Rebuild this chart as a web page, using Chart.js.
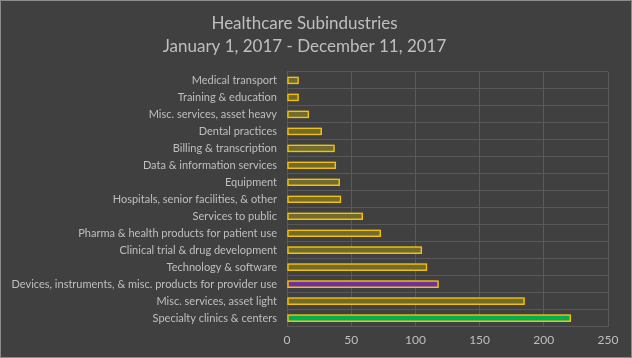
<!DOCTYPE html>
<html>
<head>
<meta charset="utf-8">
<script src="https://cdn.jsdelivr.net/npm/chart.js@4/dist/chart.umd.min.js"></script>
<style>
  html, body { margin: 0; padding: 0; background: #404040; }
  #wrap { position: relative; width: 632px; height: 358px; box-sizing: border-box; border: 1px solid #8c8c8c; }
  canvas { display: block; }
</style>
</head>
<body>
<div id="wrap"><canvas id="chart" width="630" height="356"></canvas></div>
<script>
// Data
//-----------------------------------------------------------------------------

var categories = [
  'Medical transport',
  'Training & education',
  'Misc. services, asset heavy',
  'Dental practices',
  'Billing & transcription',
  'Data & information services',
  'Equipment',
  'Hospitals, senior facilities, & other',
  'Services to public',
  'Pharma & health products for patient use',
  'Clinical trial & drug development',
  'Technology & software',
  'Devices, instruments, & misc. products for provider use',
  'Misc. services, asset light',
  'Specialty clinics & centers'
];

var dealCounts = [9, 9, 17, 27, 37, 38, 41, 42, 59, 73, 105, 109, 118, 185, 221];

var titleLines = ['Healthcare Subindustries', 'January 1, 2017 - December 11, 2017'];

// highlighted bars get their own fill, the rest stay olive
var barFills = categories.map(function(name) {
  if (name === 'Specialty clinics & centers') return '#00b050';
  if (name === 'Devices, instruments, & misc. products for provider use') return '#7030a0';
  return '#716b2c';
});

// Glow around the bars (Excel "glow" effect)
//-----------------------------------------------------------------------------

var glowPlugin = {
  id: 'glow',
  beforeDatasetDraw: function(chart) {
    var ctx = chart.ctx;
    ctx.save();
    ctx.shadowColor = 'rgba(210, 190, 40, 0.85)';
    ctx.shadowBlur = 8;
  },
  afterDatasetDraw: function(chart) {
    chart.ctx.restore();
  }
};

var textColor = '#bfbfbf';
var gridColor = '#595959';
var fontFamily = "Lato, 'Open Sans', sans-serif";

var chart = new Chart(document.getElementById('chart'), {
  type: 'bar',
  data: {
    labels: categories,
    datasets: [{
      data: dealCounts,
      backgroundColor: barFills,
      borderColor: '#ffc000',
      borderWidth: 1.5,
      borderSkipped: false,
      barThickness: 7
    }]
  },
  options: {
    indexAxis: 'y',
    responsive: false,
    animation: false,
    layout: { padding: { left: 0, right: 23, top: 6, bottom: 4 } },
    plugins: {
      legend: { display: false },
      tooltip: { enabled: false },
      title: {
        display: true,
        text: titleLines,
        color: textColor,
        font: { family: fontFamily, size: 17, weight: 'normal', lineHeight: 1.35 },
        padding: { top: 5, bottom: 14 }
      }
    },
    scales: {
      x: {
        min: 0,
        max: 250,
        ticks: { stepSize: 50, color: textColor, font: { family: fontFamily, size: 12 }, padding: 6 },
        grid: { color: gridColor, lineWidth: 1, drawTicks: false },
        border: { display: false }
      },
      y: {
        ticks: { color: textColor, font: { family: fontFamily, size: 11 }, padding: 10 },
        grid: { color: gridColor, lineWidth: 1, drawTicks: false },
        border: { display: false },
        afterFit: function(scale) { scale.width = 286; }
      }
    }
  },
  plugins: [glowPlugin]
});
</script>
</body>
</html>
